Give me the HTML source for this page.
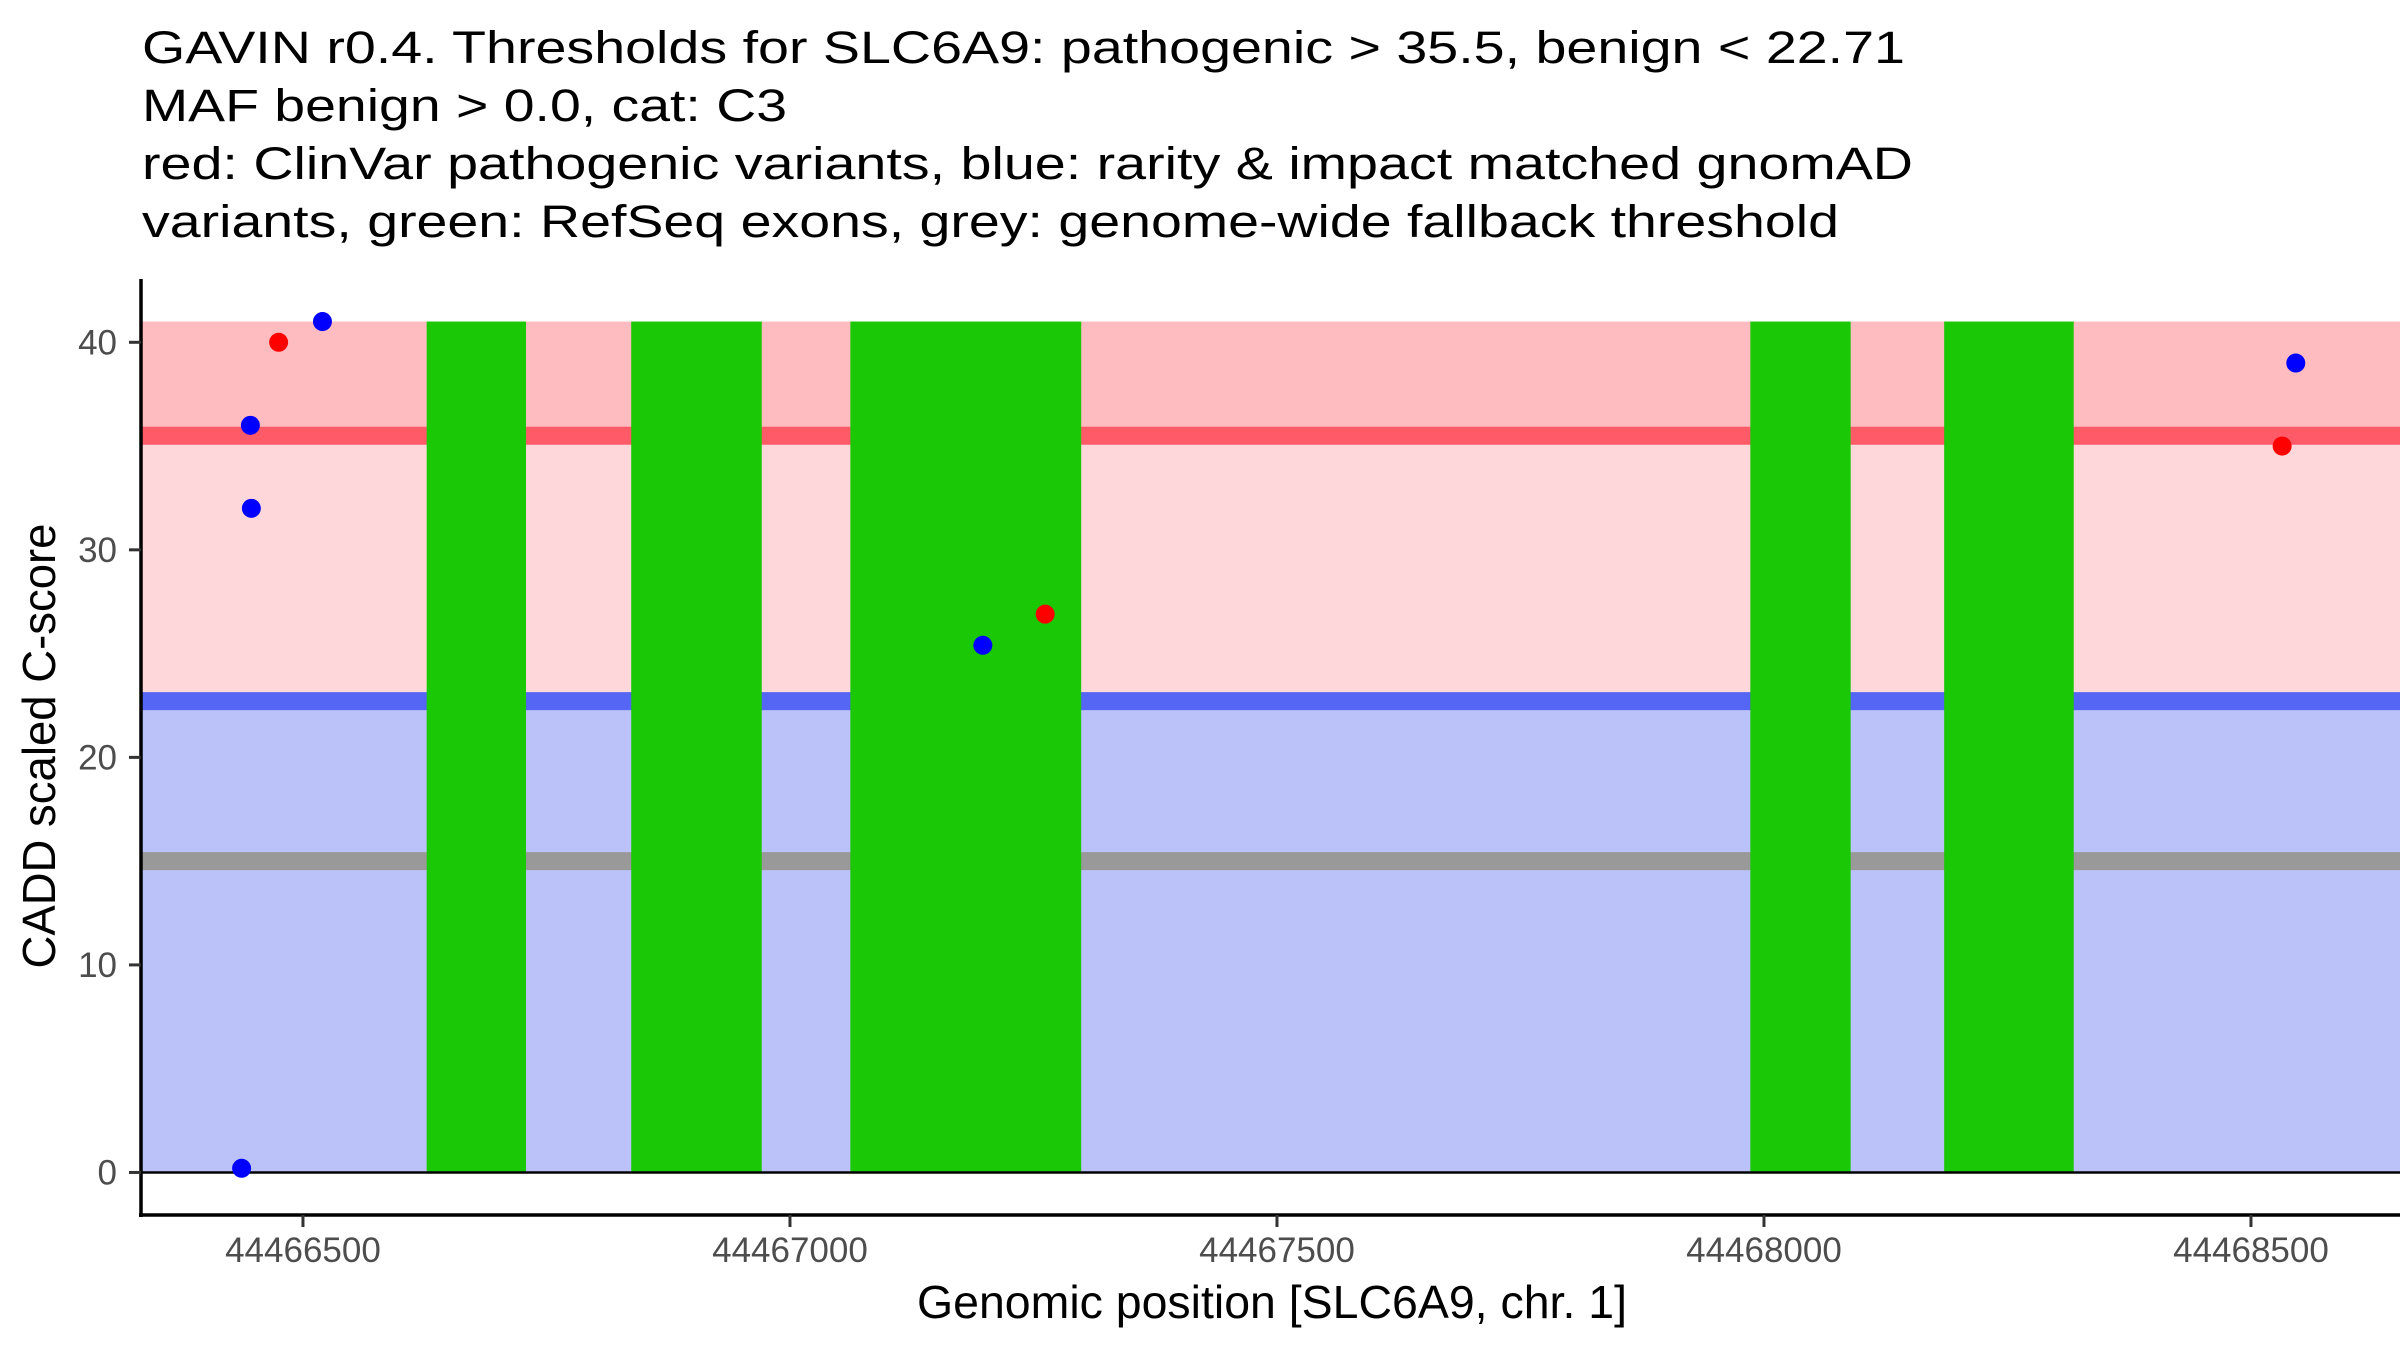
<!DOCTYPE html>
<html><head><meta charset="utf-8"><style>
html,body{margin:0;padding:0;background:#fff;}
svg{display:block;font-family:"Liberation Sans",Arial,sans-serif;}
</style></head><body>
<svg id="chart" width="2400" height="1350" viewBox="0 0 2400 1350" xmlns="http://www.w3.org/2000/svg">
<g font-size="45" fill="#000">
<text x="142" y="63" textLength="1763" lengthAdjust="spacingAndGlyphs">GAVIN r0.4. Thresholds for SLC6A9: pathogenic &gt; 35.5, benign &lt; 22.71</text>
<text x="142" y="121" textLength="645" lengthAdjust="spacingAndGlyphs">MAF benign &gt; 0.0, cat: C3</text>
<text x="142" y="179" textLength="1771" lengthAdjust="spacingAndGlyphs">red: ClinVar pathogenic variants, blue: rarity &amp; impact matched gnomAD</text>
<text x="142" y="237" textLength="1697" lengthAdjust="spacingAndGlyphs">variants, green: RefSeq exons, grey: genome-wide fallback threshold</text>
</g>
<g id="plot"></g>
</svg>
<script>
const xDomain = [44466333.7, 44468653];
const yDomain = [-2.05, 43.05];
const yMax = 41;
const pathoThreshold = 35.5;
const benignThreshold = 22.71;
const fallbackThreshold = 15;
const exonStarts = [44466627, 44466837, 44467062, 44467986, 44468185];
const exonEnds   = [44466729, 44466971, 44467299, 44468089, 44468318];
const clinvarPos   = [44466475, 44467262, 44468532];
const clinvarScore = [40, 26.9, 35];
const gnomadPos   = [44466437, 44466446, 44466447, 44466520, 44467198, 44468546];
const gnomadScore = [0.2, 36, 32, 41, 25.4, 39];
const xTicks = [44466500, 44467000, 44467500, 44468000, 44468500];
const yTicks = [0, 10, 20, 30, 40];

const L = 141, R = 2400, T = 279, B = 1215;
const sx = v => L + (v - xDomain[0]) / (xDomain[1] - xDomain[0]) * (R - L);
const sy = v => B - (v - yDomain[0]) / (yDomain[1] - yDomain[0]) * (B - T);
const NS = 'http://www.w3.org/2000/svg';
const g = document.getElementById('plot');
function mk(tag, attrs, parent) {
  const e = document.createElementNS(NS, tag);
  for (const k in attrs) e.setAttribute(k, attrs[k]);
  (parent || g).appendChild(e);
  return e;
}
const x0 = sx(xDomain[0]), x1 = sx(xDomain[1]);
let r;
r = mk('rect', {x: x0, y: sy(yMax), width: x1 - x0, height: sy(pathoThreshold) - sy(yMax), fill: '#FEBBC0'});


r = mk('rect', {x: x0, y: sy(pathoThreshold), width: x1 - x0, height: sy(benignThreshold) - sy(pathoThreshold), fill: '#FED7DB'});


r = mk('rect', {x: x0, y: sy(benignThreshold), width: x1 - x0, height: sy(0) - sy(benignThreshold), fill: '#BBC1F9'});


let ln;
ln = mk('line', {x1: x0, x2: x1, y1: sy(pathoThreshold), y2: sy(pathoThreshold), stroke: '#FE5A68', 'stroke-width': 18});


ln = mk('line', {x1: x0, x2: x1, y1: sy(benignThreshold), y2: sy(benignThreshold), stroke: '#5466F3', 'stroke-width': 18});


ln = mk('line', {x1: x0, x2: x1, y1: sy(fallbackThreshold), y2: sy(fallbackThreshold), stroke: '#999999', 'stroke-width': 18});


for (let i = 0; i < exonStarts.length; i++) {
  const e = mk('rect', {x: sx(exonStarts[i]), y: sy(yMax), width: sx(exonEnds[i]) - sx(exonStarts[i]), height: sy(0) - sy(yMax), fill: '#1AC805'});
  
  
}
ln = mk('line', {x1: x0, x2: x1, y1: sy(0), y2: sy(0), stroke: '#000', 'stroke-width': 2.5});


for (let i = 0; i < clinvarPos.length; i++) {
  const c = mk('circle', {cx: sx(clinvarPos[i]), cy: sy(clinvarScore[i]), r: 9.5, fill: '#FF0000'});
  
  
}
for (let i = 0; i < gnomadPos.length; i++) {
  const c = mk('circle', {cx: sx(gnomadPos[i]), cy: sy(gnomadScore[i]), r: 9.5, fill: '#0000FF'});
  
  
}
ln = mk('line', {x1: L, x2: L, y1: T, y2: B + 2, stroke: '#000', 'stroke-width': 3.5});


ln = mk('line', {x1: L - 2, x2: R, y1: B, y2: B, stroke: '#000', 'stroke-width': 3.5});


yTicks.forEach(v => {
  const t = mk('line', {x1: L - 12, x2: L, y1: sy(v), y2: sy(v), stroke: '#333', 'stroke-width': 3});
  
  
  const tx = mk('text', {x: L - 24, y: sy(v) + 12, 'text-anchor': 'end', 'font-size': 35, fill: '#4D4D4D'});
  tx.textContent = v;
  
  
});
xTicks.forEach(v => {
  const t = mk('line', {x1: sx(v), x2: sx(v), y1: B, y2: B + 12, stroke: '#333', 'stroke-width': 3});
  
  
  const tx = mk('text', {x: sx(v), y: 1262, 'text-anchor': 'middle', 'font-size': 35, fill: '#4D4D4D'});
  tx.textContent = v;
  
  
});
let at = mk('text', {x: 1272, y: 1318, 'text-anchor': 'middle', 'font-size': 46, fill: '#000', textLength: 710, lengthAdjust: 'spacingAndGlyphs'});
at.textContent = 'Genomic position [SLC6A9, chr. 1]';


at = mk('text', {x: 0, y: 0, 'text-anchor': 'middle', 'font-size': 46, fill: '#000', textLength: 445, lengthAdjust: 'spacingAndGlyphs', transform: 'translate(55,746) rotate(-90)'});
at.textContent = 'CADD scaled C-score';


</script>
</body></html>
